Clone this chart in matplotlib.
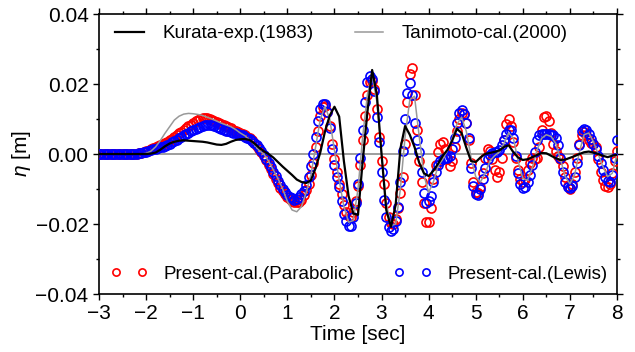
import numpy as np
import matplotlib.pyplot as plt
from matplotlib.ticker import MultipleLocator

plt.rcParams['font.family'] = ['Liberation Sans', 'DejaVu Sans']
plt.rcParams['mathtext.fontset'] = 'custom'
plt.rcParams['mathtext.it'] = 'Liberation Sans:italic'

# time grids [sec]
t_cal = np.round(np.arange(-3.0, 8.0001, 0.05), 2)
t_line = np.round(np.arange(-3.0, 8.0001, 0.1), 1)

# surface elevation values, in mm
parabolic_mm = [
    0, 0, 0, 0, 0, 0, 0, 0, 0, 0, 0, 0, 0, 0, 0, 0, 0.1, 0.2, 0.4, 0.6,
    0.8, 1.0, 1.3, 1.6, 1.9, 2.2, 2.5, 2.8, 3.1, 3.5, 3.9, 4.4, 4.9, 5.4, 5.9, 6.4, 6.9, 7.4, 7.9, 8.4,
    8.9, 9.3, 9.7, 10.0, 10.2, 10.3, 10.2, 10.0, 9.7, 9.4, 9.1, 8.8, 8.5, 8.2, 7.9, 7.6, 7.3, 7.0, 6.7, 6.4,
    6.1, 5.8, 5.4, 5.0, 4.5, 3.9, 3.2, 2.4, 1.5, 0.5, -0.6, -1.8, -3.1, -4.4, -5.8, -7.1, -8.4, -9.6, -10.6, -11.5,
    -12.3, -12.9, -13.4, -13.7, -13.8, -13.6, -13.0, -11.8, -10.3, -8.5, -6.0, -2.5, 2.0, 6.5, 11.0, 13.3, 13.7, 12.0, 8.0, 3.0,
    -1.5, -5.0, -8.5, -11.5, -14.5, -16.5, -17.8, -18.0, -16.5, -13.5, -9.0, -3.0, 4.0, 11.0, 17.0, 20.5, 21.0, 18.5, 13.0, 5.0,
    -2.0, -8.5, -14.0, -18.0, -19.8, -20.0, -18.5, -15.5, -11.0, -6.5, 3.0, 15.0, 23.0, 24.5, 17.0, 7.0, -2.0, -8.0, -14.0, -19.5,
    -19.5, -15.5, -7.0, -3.0, 0.5, 3.0, 3.5, 1.5, -1.5, -3.5, -2.0, 2.0, 6.5, 10.0, 11.8, 11.5, 9.0, 4.0, -2.5, -8.0,
    -10.8, -11.0, -9.5, -5.5, -1.0, 1.5, 1.0, -1.5, -4.5, -6.5, -5.0, -1.0, 4.0, 8.5, 10.0, 8.0, 3.5, -1.0, -4.5, -7.0,
    -8.0, -7.0, -4.5, -2.5, -1.0, -1.5, -1.0, 2.0, 7.0, 10.5, 11.0, 9.5, 6.0, 3.0, 1.0, -0.5, -1.5, -3.5, -6.5, -9.0,
    -10.0, -8.5, -5.0, -1.0, 3.0, 5.5, 6.2, 5.5, 4.0, 3.2, 3.0, 2.0, -1.5, -5.0, -7.5, -9.0, -9.5, -8.5, -5.5, -2.0,
    1.0,
]

lewis_mm = [
    0, 0, 0, 0, 0, 0, 0, 0, 0, 0, 0, 0, 0, 0, 0, 0, 0.1, 0.2, 0.3, 0.5,
    0.7, 0.9, 1.1, 1.3, 1.5, 1.7, 1.9, 2.0, 2.2, 2.5, 2.9, 3.3, 3.7, 4.1, 4.5, 4.9, 5.3, 5.7, 6.1, 6.5,
    6.9, 7.2, 7.5, 7.8, 8.0, 8.2, 8.3, 8.3, 8.2, 8.0, 7.7, 7.4, 7.1, 6.9, 6.7, 6.5, 6.3, 6.1, 5.9, 5.7,
    5.5, 5.3, 5.0, 4.7, 4.3, 3.8, 3.2, 2.5, 1.7, 0.8, -0.2, -1.3, -2.5, -3.8, -5.1, -6.4, -7.6, -8.8, -9.9, -10.8,
    -11.6, -12.2, -12.7, -13.0, -12.9, -12.4, -11.5, -10.5, -8.8, -6.5, -3.5, 0.0, 5.0, 9.5, 12.8, 14.3, 14.2, 12.0, 7.5, 1.5,
    -3.0, -6.5, -9.5, -13.5, -17.0, -19.0, -20.6, -20.5, -18.0, -14.0, -8.5, -1.0, 7.0, 15.0, 20.5, 22.3, 21.5, 18.0, 10.5, 3.5,
    -5.0, -13.0, -18.0, -20.8, -22.0, -21.5, -19.0, -15.0, -8.0, 1.0, 10.0, 17.5, 20.3, 17.0, 9.0, 4.0, 0.5, -5.0, -11.0, -14.0,
    -13.5, -12.0, -8.0, -5.0, -3.0, -2.0, -1.5, -1.2, -1.0, -0.5, 1.5, 4.5, 9.0, 11.8, 12.6, 11.5, 9.0, 4.5, -4.0, -9.0,
    -11.5, -11.8, -10.0, -7.0, -4.0, -1.5, -0.3, 0.2, 0.5, 0.7, 1.2, 2.5, 4.0, 5.8, 6.8, 6.8, 4.5, -0.5, -5.5, -8.5,
    -9.7, -9.5, -8.0, -6.0, -3.0, 0.5, 4.0, 5.3, 5.6, 5.7, 5.7, 5.6, 5.5, 5.3, 4.5, 2.5, -1.0, -5.0, -8.0, -9.5,
    -9.8, -9.0, -6.5, -2.5, 2.5, 6.5, 7.2, 7.0, 5.8, 4.3, 2.8, 1.3, -0.5, -2.5, -4.5, -6.5, -7.8, -8.0, -6.0, -1.0,
    4.0,
]

kurata_mm = [
    0, 0, 0, 0, 0, 0, 0, 0, 0, 0,
    0, 0.1, 0.4, 1.2, 2.2, 3.0, 3.5, 3.8, 3.9, 3.8,
    3.7, 3.6, 3.5, 3.3, 3.0, 2.7, 2.6, 2.9, 3.5, 4.0,
    4.2, 4.3, 4.0, 3.0, 1.8, 0.8, 0.0, -1.0, -2.3, -3.6,
    -4.8, -6.0, -7.3, -8.0, -8.3, -7.5, -4.0, 0.5, 6.5, 11.0,
    13.5, 10.7, -2.0, -12.0, -17.0, -17.4, -2.0, 12.0, 24.0, 17.0,
    0.0, -16.0, -20.8, -14.5, 1.5, 8.0, 5.5, 2.0, -2.5, -5.5,
    -6.3, -4.8, -2.8, -0.5, 1.2, 3.8, 7.2, 6.0, 1.8, -2.0,
    -2.3, -1.0, 0.0, 0.3, 0.6, 1.0, 2.0, 2.5, 0.5, -1.0,
    -1.7, -1.5, -0.9, -0.3, 0.3, 0.2, -0.5, -1.2, -1.7, -1.6,
    -1.1, -0.6, 0.0, 0.5, 0.7, 0.4, 0.0, -0.5, -0.9, -0.5,
    -0.2,
]

tanimoto_mm = [
    0, 0, 0, 0, 0, 0, 0, 0, 0, 0,
    0.2, 0.8, 2.0, 3.8, 5.9, 7.8, 9.7, 10.8, 11.4, 11.6,
    11.5, 11.3, 11.0, 10.5, 10.0, 9.4, 8.8, 8.3, 7.8, 7.0,
    6.0, 5.2, 4.0, 2.7, 1.0, 0.0, -2.0, -4.5, -7.0, -10.0,
    -13.5, -16.0, -16.5, -15.0, -11.0, -6.0, 2.0, 10.0, 13.5, 10.0,
    1.0, -7.5, -15.0, -19.5, -19.0, -10.0, 5.0, 17.0, 22.5, 15.0,
    0.0, -14.0, -20.5, -20.0, -10.0, 5.0, 15.5, 16.5, 5.0, -6.0,
    -11.0, -8.0, -3.5, -1.5, 1.0, 4.5, 8.5, 10.5, 6.5, -1.0,
    -6.5, -8.0, -5.5, -2.0, -0.5, 0.5, 3.0, 6.0, 4.5, -2.0,
    -7.0, -7.5, -4.0, 1.0, 4.5, 5.5, 5.0, 3.0, -1.5, -6.5,
    -8.5, -6.0, 0.5, 5.5, 6.0, 3.5, 0.0, -3.5, -6.5, -5.5,
    0.0,
]

# mm -> m
parabolic = np.array(parabolic_mm) / 1000
lewis = np.array(lewis_mm) / 1000
kurata = np.array(kurata_mm) / 1000
tanimoto = np.array(tanimoto_mm) / 1000

fig = plt.figure(figsize=(6.35, 3.52), dpi=100)
ax = fig.add_axes([99/635, 58/352, 518/635, 280/352])

ax.axhline(0, color='#8c8c8c', lw=1.2, zorder=1)

p_red, = ax.plot(t_cal, parabolic, 'o', mfc='none', mec='red', ms=6.5, mew=1.2, zorder=3,
                 label='Present-cal.(Parabolic)')
p_blue, = ax.plot(t_cal, lewis, 'o', mfc='none', mec='blue', ms=6.5, mew=1.2, zorder=4,
                  label='Present-cal.(Lewis)')
l_gray, = ax.plot(t_line, tanimoto, color='#999999', lw=1.1, zorder=5, label='Tanimoto-cal.(2000)')
l_black, = ax.plot(t_line, kurata, color='black', lw=1.6, zorder=6, label='Kurata-exp.(1983)')

ax.set_xlim(-3, 8)
ax.set_ylim(-0.04, 0.04)
ax.xaxis.set_major_locator(MultipleLocator(1))
ax.xaxis.set_minor_locator(MultipleLocator(0.5))
ax.yaxis.set_major_locator(MultipleLocator(0.02))
ax.yaxis.set_minor_locator(MultipleLocator(0.01))
ax.yaxis.set_major_formatter(plt.FuncFormatter(lambda v, p: f'{v:.2f}'.replace('-', '\u2212')))
ax.tick_params(which='both', direction='out', top=True, right=True, labelsize=15, width=1)
ax.tick_params(which='major', length=4)
ax.tick_params(which='minor', length=2.5)
for s in ax.spines.values():
    s.set_linewidth(1.2)

ax.set_xlabel('Time [sec]', fontsize=15, labelpad=1)
ax.set_ylabel(r'$\eta$ [m]', fontsize=15, labelpad=2)

leg1 = ax.legend(handles=[l_black, l_gray], loc='upper left', ncol=2, frameon=False,
                 fontsize=13.5, handlelength=1.5, handletextpad=1.0, columnspacing=2.2,
                 bbox_to_anchor=(0.01, 1.0), borderaxespad=0.2)
ax.add_artist(leg1)
ax.legend(handles=[p_red, p_blue], loc='lower left', ncol=2, frameon=False, fontsize=13.5,
          numpoints=2, markerscale=0.8, handlelength=2.0, handletextpad=0.85, columnspacing=2.1,
          bbox_to_anchor=(0.0, 0.0), borderaxespad=0.2)

fig.savefig('out.png', dpi=100)
